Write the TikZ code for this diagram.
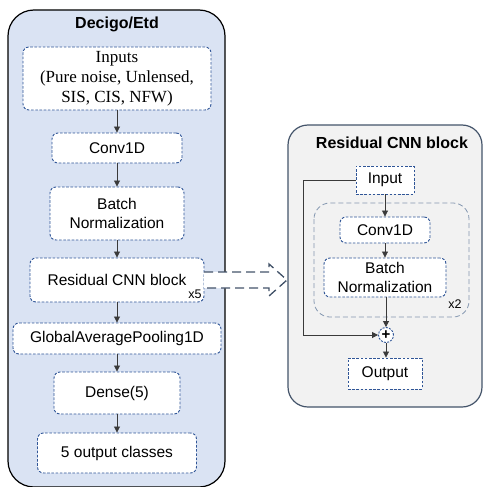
\documentclass[tikz,border=0pt]{standalone}
\usepackage{fontspec}
\setmainfont{Liberation Sans}
\newfontfamily\seriffont{Liberation Serif}
\usetikzlibrary{arrows.meta}
\definecolor{contblue}{HTML}{DAE3F3}
\definecolor{contgray}{HTML}{F2F2F2}
\definecolor{boxline}{HTML}{2F5597}
\definecolor{grpline}{HTML}{8497B0}
\definecolor{slate}{HTML}{44546A}
\definecolor{arr}{HTML}{3A3A3A}
\tikzset{
  box/.style={draw=boxline, fill=white, line width=0.9pt, dash pattern=on 2.6pt off 1.6pt,
    rounded corners=6pt, inner sep=0pt, align=center, font=\fontsize{15.5}{18.5}\selectfont},
  sqbox/.style={box, rounded corners=0pt},
  flow/.style={draw=arr, line width=0.8pt, -{Triangle[length=6pt,width=6pt]}},
  ttl/.style={font=\bfseries\fontsize{16}{19}\selectfont},
  small/.style={font=\fontsize{12.5}{14}\selectfont}
}
\begin{document}
\begin{tikzpicture}[x=1pt,y=-1pt]
\useasboundingbox (0,0) rectangle (483,487);
% containers
\draw[line width=1.2pt, fill=contblue, rounded corners=26pt] (8,10) rectangle (225,487);
\draw[line width=1.2pt, draw=slate, fill=contgray, rounded corners=20pt] (288,125) rectangle (482,407);
\node[ttl] (t1) at (117,24) {Decigo/Etd};
\node[ttl] (t2) at (392,143) {Residual CNN block};
% left column
\node[box, minimum width=188pt, minimum height=63pt, font=\seriffont\fontsize{17}{20}\selectfont] (inp) at (117,78.5) {Inputs\\(Pure noise, Unlensed,\\SIS, CIS, NFW)};
\node[box, minimum width=130pt, minimum height=30pt] (conv) at (117,148) {Conv1D};
\node[box, minimum width=134pt, minimum height=53pt] (bn) at (117,213.5) {Batch\\Normalization};
\node[box, minimum width=174pt, minimum height=44pt] (res) at (117,280) {Residual CNN block};
\node[small] (x5) at (195,294) {x5};
\node[box, minimum width=208pt, minimum height=31pt] (gap) at (117,338.5) {GlobalAveragePooling1D};
\node[box, minimum width=126pt, minimum height=42pt] (dense) at (117,393) {Dense(5)};
\node[box, minimum width=159pt, minimum height=40pt] (out) at (117,453) {5 output classes};
\draw[flow] (inp) -- (conv);
\draw[flow] (conv) -- (bn);
\draw[flow] (bn) -- (res);
\draw[flow] (res) -- (gap);
\draw[flow] (gap) -- (dense);
\draw[flow] (dense) -- (out);
% big hollow arrow
\coordinate (ba) at (204,272);
\coordinate (bb) at (204,288);
\draw[draw=slate, fill=white, line width=1.3pt, dash pattern=on 9pt off 5pt]
  (ba) -- (269,272) -- (269,264) -- (287,280) -- (269,296) -- (269,288) -- (bb);
% right column
\draw[draw=grpline, line width=0.8pt, dash pattern=on 5pt off 3pt, rounded corners=16pt] (314,203) rectangle (469,317);
\node[small] (x2) at (455,304) {x2};
\node[sqbox, minimum width=58pt, minimum height=28pt] (rin) at (385,180) {Input};
\node[box, minimum width=90pt, minimum height=26pt] (rconv) at (385,230) {Conv1D};
\node[box, minimum width=122pt, minimum height=39pt] (rbn) at (385,277.5) {Batch\\Normalization};
\node[draw=boxline, fill=white, line width=0.9pt, dash pattern=on 2pt off 1.3pt, circle, minimum size=15pt, inner sep=0pt, font=\bfseries\fontsize{15}{15}\selectfont] (plus) at (386,335) {+};
\node[sqbox, minimum width=74pt, minimum height=31pt] (rout) at (385,373.5) {Output};
\coordinate (s1) at (303,180);
\coordinate (s2) at (303,335);
\draw[flow] (rin) -- (rconv);
\draw[flow] (rconv) -- (rbn);
\draw[flow] (rbn.south -| plus) -- (plus);
\draw[flow] (plus) -- (rout.north -| plus);
\draw[flow] (rin.west) -- (s1) -- (s2) -- (plus.west);
\end{tikzpicture}
\end{document}
